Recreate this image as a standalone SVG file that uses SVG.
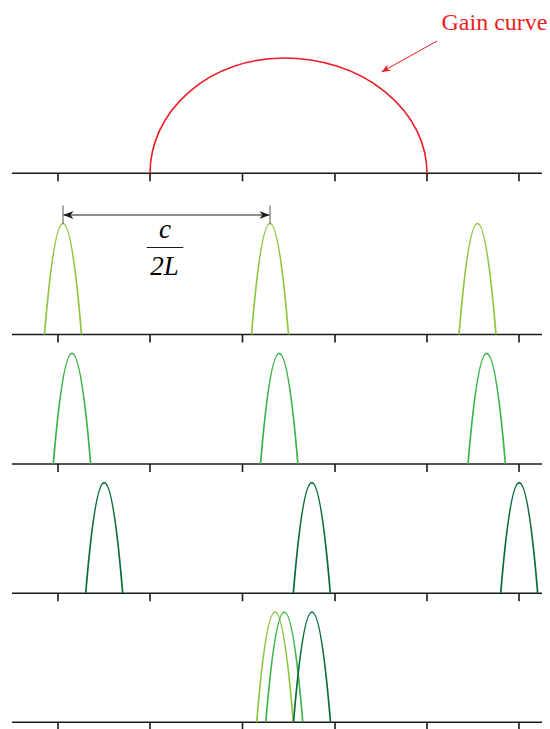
<svg xmlns="http://www.w3.org/2000/svg" width="550" height="729" viewBox="0 0 550 729">
<defs>
<style>
.axis{stroke:#1a1a1a;stroke-width:1.6;fill:none}
.tick{stroke:#1a1a1a;stroke-width:1.6;fill:none}
.c1{stroke:#8cc63f;stroke-width:1.7;fill:none}
.c2{stroke:#3cb44b;stroke-width:1.7;fill:none}
.c3{stroke:#0b6b3a;stroke-width:1.7;fill:none}
.gain{stroke:#ed1c24;stroke-width:1.6;fill:none}
.lbl{font-family:"Liberation Serif","Times New Roman",serif}
</style>
<marker id="redhead" viewBox="0 0 10 10" refX="10" refY="5" markerWidth="9" markerHeight="9" markerUnits="userSpaceOnUse" orient="auto">
<path d="M0,1 L10,5 L0,9 L3,5 Z" fill="#ed1c24"/>
</marker>
<marker id="blkhead" viewBox="0 0 10 10" refX="10" refY="5" markerWidth="10" markerHeight="10" markerUnits="userSpaceOnUse" orient="auto-start-reverse">
<path d="M0,1 L10,5 L0,9 L3,5 Z" fill="#1a1a1a"/>
</marker>
<g id="ticks">
<line class="axis" x1="12" y1="0" x2="542" y2="0"/>
<path class="tick" d="M58,0 v8 M150,0 v8 M242.5,0 v8 M335,0 v8 M427,0 v8 M519,0 v8"/>
</g>
</defs>

<g id="axes">
<use href="#ticks" y="173.3"/>
<use href="#ticks" y="334.5"/>
<use href="#ticks" y="464"/>
<use href="#ticks" y="593.3"/>
<use href="#ticks" y="722.3"/>
</g>

<g id="gain-curve">
<path class="gain" d="M150,173.3 A134,115.3 0 0 1 284,58 A143,115.3 0 0 1 427,173.3"/>
<line x1="437" y1="41" x2="381.5" y2="72" stroke="#ed1c24" stroke-width="1" marker-end="url(#redhead)"/>
<text class="lbl" x="441.5" y="30" font-size="24" fill="#ed1c24">Gain curve</text>
</g>

<g id="modes-1">
<path class="c1" d="M44.5,334.5 Q63,112.5 81.5,334.5"/>
<path class="c1" d="M251.5,334.5 Q270,112.5 288.5,334.5"/>
<path class="c1" d="M459,334.5 Q477.5,112.5 496,334.5"/>
</g>

<g id="spacing">
<line x1="63" y1="205.5" x2="63" y2="224" stroke="#555" stroke-width="1"/>
<line x1="270" y1="205.5" x2="270" y2="224" stroke="#555" stroke-width="1"/>
<line x1="63.5" y1="215" x2="269.5" y2="215" stroke="#1a1a1a" stroke-width="1" marker-start="url(#blkhead)" marker-end="url(#blkhead)"/>
<text class="lbl" x="165" y="238" font-size="27" font-style="italic" text-anchor="middle">c</text>
<line x1="146.7" y1="247.5" x2="183.3" y2="247.5" stroke="#1a1a1a" stroke-width="1"/>
<text class="lbl" x="164.5" y="275" font-size="27" font-style="italic" text-anchor="middle">2L</text>
</g>

<g id="modes-2">
<path class="c2" d="M53.3,464 Q72,242.6 90.7,464"/>
<path class="c2" d="M260.5,464 Q279.2,242.6 297.9,464"/>
<path class="c2" d="M468,464 Q486.7,242.6 505.4,464"/>
</g>

<g id="modes-3">
<path class="c3" d="M85.7,593.3 Q104.2,372 122.7,593.3"/>
<path class="c3" d="M293.3,593.3 Q311.8,372 330.3,593.3"/>
<path class="c3" d="M500.7,593.3 Q519.2,372 537.7,593.3"/>
</g>

<g id="modes-combined">
<path class="c1" d="M256.7,722.3 Q275,501.7 293.3,722.3"/>
<path class="c2" d="M265.8,722.3 Q284.3,501.7 302.8,722.3"/>
<path class="c3" d="M293.5,722.3 Q312,501.7 330.5,722.3"/>
</g>
</svg>
